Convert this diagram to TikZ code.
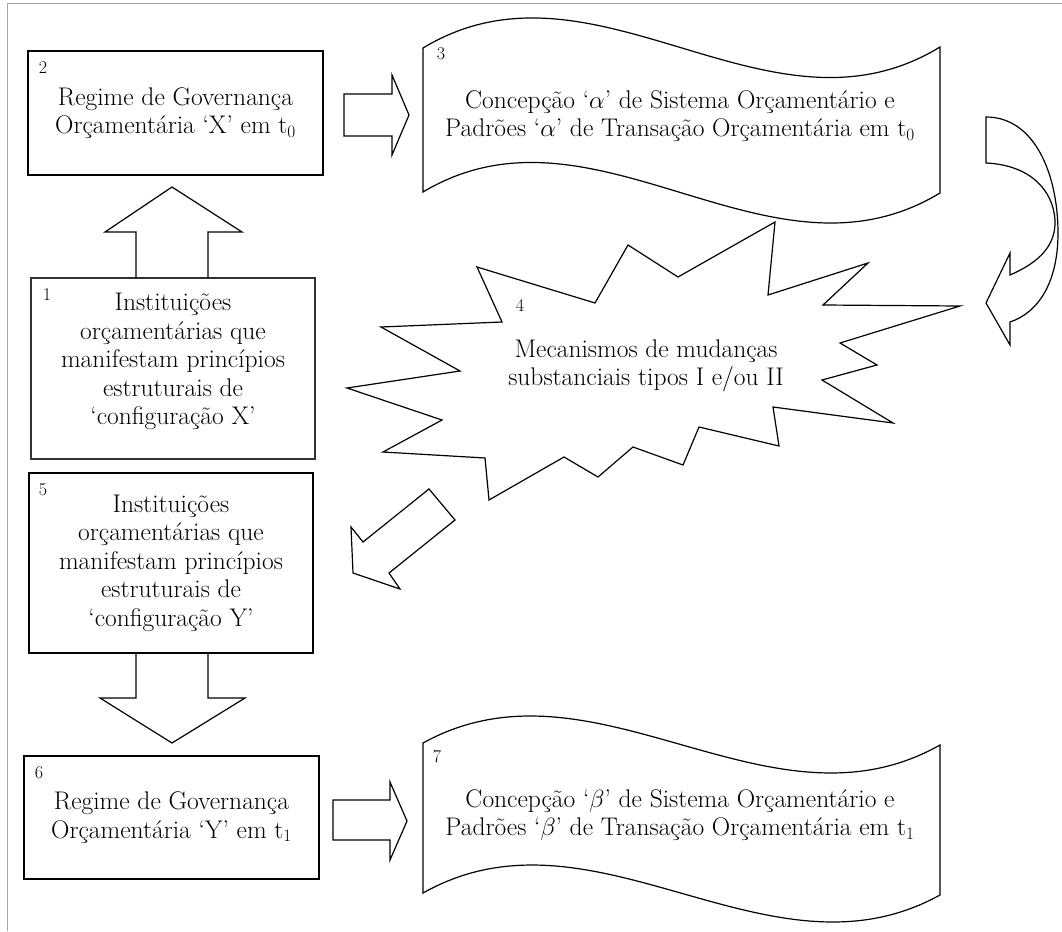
\documentclass[tikz,border=0pt]{standalone}
\usepackage{fontspec}
\usetikzlibrary{calc}
\tikzset{box/.style={draw, line width=1.3pt, align=center, inner sep=0pt, font=\fontsize{25.5}{28.5}\selectfont},
txt/.style={align=center, inner sep=0pt, font=\fontsize{25.5}{28.5}\selectfont},
num/.style={inner sep=0pt, font=\fontsize{18}{20}\selectfont},
shp/.style={line width=1.2pt, line join=miter}}

\begin{document}
\begin{tikzpicture}[x=1pt,y=-1pt]
\useasboundingbox (0,0) rectangle (1062,931);
\draw[gray!70, line width=1pt] (7,931) -- (7,4) -- (1062,4);
% boxes
\node (b2) [box, minimum width=295pt, minimum height=124pt] at (175.5,113) {Regime de Governança\\Orçamentária ‘X’ em t$_0$};
\node (b1) [box, draw=black!80, line width=1.2pt, minimum width=284pt, minimum height=181pt, text depth=19pt] at (173,368.5) {Instituições\\orçamentárias que\\manifestam princípios\\estruturais de\\‘configuração X’};
\node (b5) [box, minimum width=284pt, minimum height=180pt] at (171,563) {Instituições\\orçamentárias que\\manifestam princípios\\estruturais de\\‘configuração Y’};
\node (b6) [box, minimum width=295pt, minimum height=123pt] at (171.5,817.5) {Regime de Governança\\Orçamentária ‘Y’ em t$_1$};
% waves
\draw[shp] (423,48) .. controls (595,-56) and (768,152) .. (940,47) -- (940,193) .. controls (768,297) and (595,89) .. (423,192) -- cycle;
\draw[shp] (423,743) .. controls (595,648) and (768,842) .. (940,745) -- (940,895) .. controls (768,990) and (595,796) .. (423,893) -- cycle;
\node (w3) [txt] at (680,116) {Concepção ‘$\alpha$’ de Sistema Orçamentário e\\Padrões ‘$\alpha$’ de Transação Orçamentária em t$_0$};
\node (w7) [txt] at (680,815) {Concepção ‘$\beta$’ de Sistema Orçamentário e\\Padrões ‘$\beta$’ de Transação Orçamentária em t$_1$};
% star
\draw[shp] (775,222) -- (768,295) -- (868,263) -- (823,305) -- (960,306) -- (840,343) -- (877,365) -- (822,380) -- (893,423) -- (773,407) -- (779,446) -- (699,427) -- (683,465) -- (633,447) -- (598,477) -- (564,457) -- (489,500) -- (485,458) -- (383,452) -- (442,420) -- (347,388) -- (460,371) -- (381,327) -- (502,322) -- (477,267) -- (595,303) -- (628,245) -- (678,277) -- cycle;
\node (s4) [txt] at (646,366) {Mecanismos de mudanças\\substanciais tipos I e/ou II};
% block arrows
\draw[shp] (344,94) -- (392,94) -- (392,75) -- (409,115) -- (392,155) -- (392,136) -- (344,136) -- cycle;
\draw[shp] (333,800) -- (390,800) -- (390,782) -- (407,821) -- (390,860) -- (390,840) -- (333,840) -- cycle;
\draw[shp] (136,278) -- (136,232) -- (105,232) -- (172,187) -- (242,232) -- (208,232) -- (208,278);
\draw[shp] (136,653) -- (136,698) -- (100,698) -- (172,743) -- (245,698) -- (208,698) -- (208,653);
\draw[shp] (429,489) -- (455,520) -- (389,573) -- (400,589) -- (353,573) -- (351,527) -- (363,542) -- cycle;
\draw[shp] (986,117) .. controls (1035,117) and (1058,175) .. (1058,233) .. controls (1058,280) and (1040,312) .. (1010,322) -- (1010,345) -- (986,303) -- (1010,253) -- (1010,275) .. controls (1040,262) and (1056,245) .. (1055,220) .. controls (1053,190) and (1030,165) .. (986,163) -- cycle;
% numbers
\node (n2) [num] at (43,68) {2};
\node (n1) [num] at (47,295) {1};
\node (n5) [num] at (43,490) {5};
\node (n6) [num] at (39,773) {6};
\node (n3) [num] at (441,54) {3};
\node (n7) [num] at (437,757) {7};
\node (n4) [num] at (520,305) {4};
\end{tikzpicture}
\end{document}
